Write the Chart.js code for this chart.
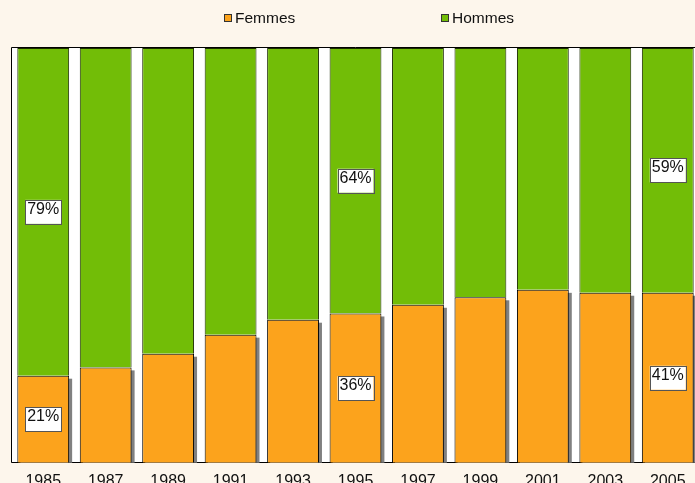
<!DOCTYPE html>
<html>
<head>
<meta charset="utf-8">
<script src="https://cdn.jsdelivr.net/npm/chart.js@4/dist/chart.umd.min.js"></script>
<style>
  html, body { margin: 0; padding: 0; background: #fdf6ec; overflow: hidden; }
  #wrap { position: relative; width: 699px; height: 492px; }
</style>
</head>
<body>
<div id="wrap"><canvas id="graphique"></canvas></div>
<script>
// ======== Données ========
const annees = ['1985', '1987', '1989', '1991', '1993', '1995', '1997', '1999', '2001', '2003', '2005'];
const femmes = [21, 23, 26.3, 30.9, 34.5, 36, 38.1, 39.9, 41.7, 41, 41];
const hommes = [79, 77, 73.7, 69.1, 65.5, 64, 61.9, 60.1, 58.3, 59, 59];
// années qui reçoivent une étiquette
const anneesEtiquetees = ['1985', '1995', '2005'];

const couleurFemmes = '#fca31c';
const couleurHommes = '#72bd07';
const police = 'Liberation Sans, Arial, sans-serif';

// ======== Fond blanc de la zone de tracé + cadre ========
const fondZone = {
  id: 'fondZone',
  beforeDraw(chart) {
    const { ctx, chartArea: a } = chart;
    ctx.save();
    ctx.fillStyle = '#ffffff';
    ctx.fillRect(a.left, a.top, a.right - a.left, a.bottom - a.top);
    ctx.restore();
  },
  afterDraw(chart) {
    const { ctx, chartArea: a } = chart;
    ctx.save();
    ctx.strokeStyle = '#000000';
    ctx.lineWidth = 1;
    ctx.beginPath();
    ctx.moveTo(a.left - 0.5, a.bottom);
    ctx.lineTo(a.left - 0.5, a.top - 0.5);
    ctx.lineTo(a.right, a.top - 0.5);
    ctx.stroke();
    ctx.restore();
  },
};

// ======== Ombre grise derrière les barres Femmes ========
const ombre = {
  id: 'ombre',
  beforeDatasetsDraw(chart) {
    const { ctx, chartArea: a } = chart;
    const meta = chart.getDatasetMeta(0);
    ctx.save();
    ctx.beginPath();
    ctx.rect(a.left, a.top, a.right - a.left + 10, a.bottom - a.top);
    ctx.clip();
    ctx.fillStyle = '#808080';
    meta.data.forEach((barre) => {
      const p = barre.getProps(['x', 'y', 'base', 'width'], true);
      ctx.fillRect(p.x - p.width / 2 + 3, p.y + 3, p.width, p.base - p.y);
    });
    ctx.restore();
  },
};

// ======== Étiquettes en pourcentage ========
const etiquettes = {
  id: 'etiquettes',
  afterDatasetsDraw(chart) {
    const { ctx } = chart;
    ctx.save();
    ctx.font = '16px ' + police;
    ctx.textAlign = 'center';
    ctx.textBaseline = 'alphabetic';
    chart.data.datasets.forEach((ds, di) => {
      const meta = chart.getDatasetMeta(di);
      meta.data.forEach((barre, i) => {
        if (!anneesEtiquetees.includes(chart.data.labels[i])) return;
        const p = barre.getProps(['x', 'y', 'base'], true);
        const cx = p.x;
        const cy = (p.y + p.base) / 2;
        const w = 36, h = 24;
        ctx.fillStyle = '#ffffff';
        ctx.fillRect(cx - w / 2, cy - h / 2, w, h);
        ctx.strokeStyle = '#555555';
        ctx.lineWidth = 1;
        ctx.strokeRect(Math.round(cx - w / 2) + 0.5, Math.round(cy - h / 2) + 0.5, w, h);
        ctx.fillStyle = '#111111';
        ctx.fillText(Math.round(ds.data[i]) + '%', cx, cy + 2);
      });
    });
    ctx.restore();
  },
};

// ======== Légende (espacée comme l'original) ========
const legende = {
  id: 'legende',
  afterDraw(chart) {
    const { ctx } = chart;
    const items = [
      { texte: chart.data.datasets[0].label, couleur: couleurFemmes, x: 224 },
      { texte: chart.data.datasets[1].label, couleur: couleurHommes, x: 441 },
    ];
    ctx.save();
    ctx.font = '15.5px ' + police;
    ctx.textBaseline = 'middle';
    ctx.textAlign = 'left';
    items.forEach((it) => {
      ctx.fillStyle = it.couleur;
      ctx.fillRect(it.x, 14, 8, 8);
      ctx.strokeStyle = '#333333';
      ctx.lineWidth = 1;
      ctx.strokeRect(it.x + 0.5, 14.5, 7, 7);
      ctx.fillStyle = '#111111';
      ctx.fillText(it.texte, it.x + 11, 18.5);
    });
    ctx.restore();
  },
};

new Chart(document.getElementById('graphique'), {
  type: 'bar',
  data: {
    labels: annees,
    datasets: [
      {
        label: 'Femmes',
        data: femmes,
        backgroundColor: couleurFemmes,
        borderColor: '#000000',
        borderWidth: 1,
        borderSkipped: 'bottom',
        categoryPercentage: 1,
        barPercentage: 0.83,
      },
      {
        label: 'Hommes',
        data: hommes,
        backgroundColor: couleurHommes,
        borderColor: '#1a2a00',
        borderWidth: 1,
        borderSkipped: 'bottom',
        categoryPercentage: 1,
        barPercentage: 0.83,
      },
    ],
  },
  options: {
    responsive: true,
    maintainAspectRatio: false,
    animation: false,
    layout: { padding: { top: 48, left: 12, right: 0, bottom: 0 } },
    plugins: {
      legend: { display: false },
      tooltip: { enabled: false },
    },
    scales: {
      x: {
        stacked: true,
        grid: { display: false },
        border: { display: true, color: '#000000', width: 1 },
        ticks: { color: '#111111', font: { size: 16, family: police }, padding: 1 },
      },
      y: {
        stacked: true,
        display: false,
        min: 0,
        max: 100,
      },
    },
  },
  plugins: [fondZone, ombre, etiquettes, legende],
});
</script>
</body>
</html>
